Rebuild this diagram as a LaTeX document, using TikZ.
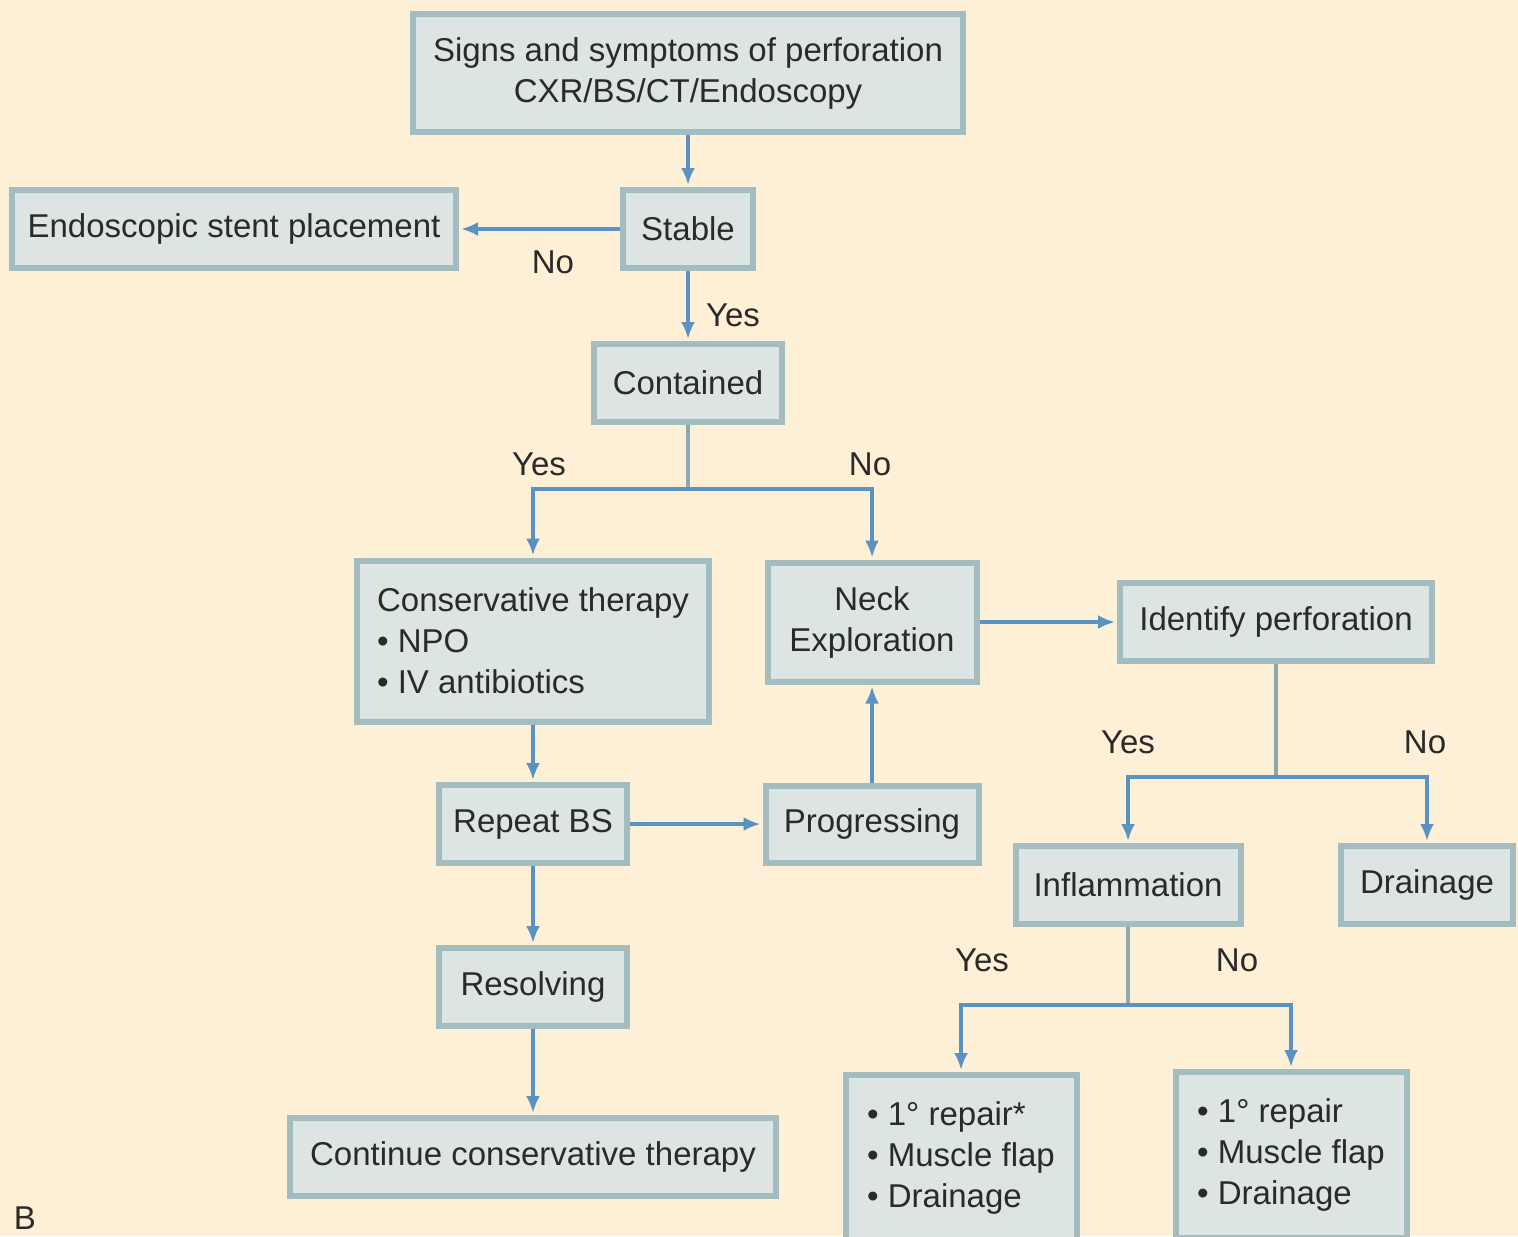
\documentclass[tikz,border=0pt]{standalone}
\usepackage{fontspec}
\setmainfont{Liberation Sans}
\usetikzlibrary{arrows.meta}
\definecolor{bgcream}{HTML}{FDF0D6}
\definecolor{boxfill}{HTML}{DDE4E4}
\definecolor{boxedge}{HTML}{A2BCBF}
\definecolor{arrowblue}{HTML}{5A93C2}
\definecolor{stemgrey}{HTML}{8EA9AE}
\definecolor{inkgrey}{HTML}{2A2A2A}
\tikzset{
  flowbox/.style={draw=boxedge, fill=boxfill, line width=3pt, inner sep=0pt,
    minimum height=39pt, align=center, text=inkgrey,
    font=\fontsize{16.5}{20.5}\selectfont},
  listbox/.style={flowbox, align=left},
  answer/.style={text=inkgrey, font=\fontsize{16.5}{20.5}\selectfont},
  arr/.style={draw=arrowblue, line width=2.3pt, shorten >=1pt,
    -{Latex[length=8.5pt,width=7pt]}},
  stem/.style={draw=stemgrey, line width=2.3pt}
}
\begin{document}
\begin{tikzpicture}[x=0.5pt,y=-0.5pt]
    % Background
    \fill[bgcream] (0,0) rectangle (1518,1236);
    \useasboundingbox (0,0) rectangle (1518,1236);
    % Boxes
    \node[flowbox, minimum width=275pt, minimum height=58.5pt] (signs) at (688,73) {Signs and symptoms of perforation\\CXR/BS/CT/Endoscopy};
    \node[flowbox, minimum width=65pt] (stable) at (688,229) {Stable};
    \node[flowbox, minimum width=222pt] (stent) at (234,229) {Endoscopic stent placement};
    \node[flowbox, minimum width=94pt] (contained) at (688,383) {Contained};
    \node[listbox, minimum width=176pt, minimum height=80.5pt] (conservative) at (533,641) {Conservative therapy\\\textbullet{} NPO\\\textbullet{} IV antibiotics};
    \node[flowbox, minimum width=104.5pt, minimum height=59.5pt] (neck) at (872,622) {Neck\\Exploration};
    \node[flowbox, minimum width=156pt] (identify) at (1276,622) {Identify perforation};
    \node[flowbox, minimum width=94pt] (repeat) at (533,824) {Repeat BS};
    \node[flowbox, minimum width=106.5pt, minimum height=38.5pt] (progressing) at (872,824) {Progressing};
    \node[flowbox, minimum width=94pt] (resolving) at (533,987) {Resolving};
    \node[flowbox, minimum width=243pt] (continue) at (533,1157) {Continue conservative therapy};
    \node[flowbox, minimum width=112.5pt] (inflammation) at (1128,885) {Inflammation};
    \node[flowbox, minimum width=86pt] (drainage) at (1427,885) {Drainage};
    \node[listbox, minimum width=115.5pt, minimum height=83pt] (repairA) at (961,1158) {\textbullet{} 1° repair*\\\textbullet{} Muscle flap\\\textbullet{} Drainage};
    \node[listbox, minimum width=115.5pt, minimum height=83pt] (repairB) at (1291,1155) {\textbullet{} 1° repair\\\textbullet{} Muscle flap\\\textbullet{} Drainage};
    % Straight arrows
    \draw[arr] (signs) -- (stable);
    \draw[arr] (stable) -- (stent);
    \draw[arr] (stable) -- (contained);
    \draw[arr] (conservative) -- (repeat);
    \draw[arr] (repeat) -- (progressing);
    \draw[arr] (progressing) -- (neck);
    \draw[arr] (neck) -- (identify);
    \draw[arr] (repeat) -- (resolving);
    \draw[arr] (resolving) -- (continue);
    % Branches
    \coordinate (containedsplit) at (688,489);
    \draw[stem] (contained) -- (containedsplit);
    \draw[arr] (containedsplit) -| (conservative);
    \draw[arr] (containedsplit) -| (neck);
    \coordinate (identifysplit) at (1276,777);
    \draw[stem] (identify) -- (identifysplit);
    \draw[arr] (identifysplit) -| (inflammation);
    \draw[arr] (identifysplit) -| (drainage);
    \coordinate (inflamsplit) at (1128,1005);
    \draw[stem] (inflammation) -- (inflamsplit);
    \draw[arr] (inflamsplit) -| (repairA);
    \draw[arr] (inflamsplit) -| (repairB);
    % Labels
    \node[answer] (stableno) at (553,262) {No};
    \node[answer] (stableyes) at (733,315) {Yes};
    \node[answer] (containedyes) at (539,464) {Yes};
    \node[answer] (containedno) at (870,464) {No};
    \node[answer] (identifyyes) at (1128,742) {Yes};
    \node[answer] (identifyno) at (1425,742) {No};
    \node[answer] (inflamyes) at (982,960) {Yes};
    \node[answer] (inflamno) at (1237,960) {No};
    \node[answer] (panel) at (25,1218) {B};
\end{tikzpicture}
\end{document}
